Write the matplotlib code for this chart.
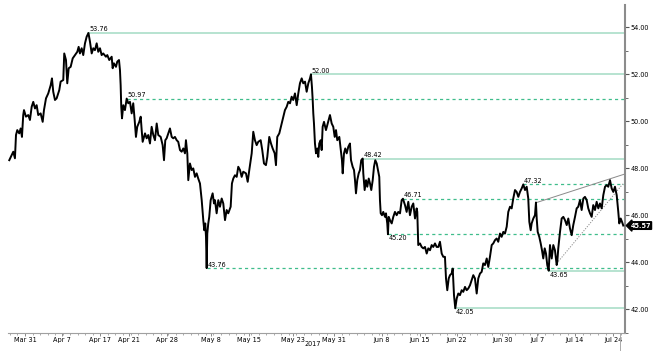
import matplotlib
matplotlib.use("Agg")
import matplotlib.pyplot as plt
from matplotlib.ticker import MultipleLocator, FixedLocator

# price trace, x = trading sessions counted from Mar 31 2017
sessions = [
    -2.08, -1.76, -1.55, -1.33, -1.19, -1.02, -0.76, -0.57, -0.40, -0.23,
    -0.13, 0.13, 0.44, 0.66, 0.89, 1.10, 1.33, 1.55, 1.76, 2.08,
    2.35, 2.52, 2.79, 3.09, 3.41, 3.58, 3.75, 3.98, 4.20, 4.55,
    4.73, 5.08, 5.21, 5.44, 5.61, 5.80, 6.06, 6.33, 6.63, 6.94,
    7.12, 7.29, 7.52, 7.73, 7.96, 8.18, 8.42, 8.62, 8.85, 9.06,
    9.28, 9.51, 9.72, 9.95, 10.17, 10.38, 10.74, 10.92, 11.18, 11.50,
    11.63, 11.80, 12.07, 12.24, 12.47, 12.60, 12.69, 12.77, 12.87, 13.04,
    13.26, 13.49, 13.70, 13.93, 14.15, 14.36, 14.55, 14.72, 14.89, 15.16,
    15.35, 15.48, 15.61, 15.92, 16.14, 16.35, 16.58, 16.80, 17.02, 17.24,
    17.47, 17.68, 18.00, 18.26, 18.44, 18.61, 18.79, 19.01, 19.23, 19.46,
    19.67, 19.89, 20.12, 20.33, 20.56, 20.78, 21.00, 21.22, 21.35, 21.53,
    21.66, 21.88, 22.11, 22.32, 22.55, 22.77, 22.98, 23.21, 23.44, 23.65,
    23.78, 23.91, 24.01, 24.10, 24.18, 24.31, 24.44, 24.63, 24.89, 25.07,
    25.20, 25.42, 25.64, 25.86, 26.09, 26.30, 26.53, 26.75, 26.96, 27.28,
    27.45, 27.63, 27.85, 28.08, 28.29, 28.52, 28.74, 28.95, 29.31, 29.54,
    29.75, 30.07, 30.28, 30.50, 30.73, 30.94, 31.26, 31.47, 31.70, 31.96,
    32.14, 32.40, 32.63, 32.85, 33.12, 33.29, 33.46, 33.73, 34.05, 34.26,
    34.48, 34.71, 34.92, 35.15, 35.37, 35.58, 35.81, 36.04, 36.25, 36.47,
    36.70, 36.91, 37.14, 37.36, 37.58, 37.80, 37.93, 38.06, 38.16, 38.24,
    38.33, 38.46, 38.60, 38.77, 38.90, 39.03, 39.22, 39.35, 39.48, 39.66,
    39.92, 40.09, 40.28, 40.45, 40.68, 40.89, 41.08, 41.25, 41.42, 41.69,
    41.87, 42.04, 42.14, 42.31, 42.48, 42.67, 42.88, 43.10, 43.24, 43.46,
    43.64, 43.77, 43.90, 44.07, 44.26, 44.43, 44.60, 44.79, 44.87, 45.05,
    45.23, 45.40, 45.59, 45.76, 45.93, 46.12, 46.29, 46.46, 46.65, 46.82,
    46.99, 47.08, 47.18, 47.35, 47.52, 47.75, 47.88, 48.05, 48.14, 48.24,
    48.41, 48.64, 48.85, 49.07, 49.30, 49.51, 49.74, 49.96, 50.13, 50.40,
    50.62, 50.84, 51.06, 51.29, 51.50, 51.73, 51.95, 52.03, 52.16, 52.39,
    52.61, 52.83, 53.05, 53.28, 53.49, 53.72, 53.94, 54.15, 54.38, 54.60,
    54.82, 55.04, 55.27, 55.48, 55.70, 55.84, 56.01, 56.20, 56.37, 56.59,
    56.73, 56.81, 56.90, 57.07, 57.26, 57.47, 57.69, 57.92, 58.13, 58.36,
    58.58, 58.79, 59.02, 59.25, 59.46, 59.68, 59.91, 60.12, 60.35, 60.57,
    60.78, 61.01, 61.24, 61.45, 61.67, 61.90, 62.11, 62.34, 62.56, 62.77,
    63.00, 63.22, 63.44, 63.66, 63.89, 64.10, 64.33, 64.55, 64.76, 64.99,
    65.21, 65.43, 65.65, 65.88, 66.09, 66.32, 66.54, 66.75, 66.89, 67.07,
    67.20, 67.42, 67.64, 67.77, 67.87, 68.00, 68.21, 68.40, 68.57, 68.74,
    68.93, 69.10, 69.27, 69.46, 69.63, 69.86, 70.07, 70.29, 70.52, 70.60,
    70.73, 70.96, 71.18, 71.40, 71.62, 71.85, 72.06, 72.28, 72.51, 72.72,
    72.95, 73.17, 73.38, 73.61, 73.83, 74.05, 74.27, 74.50, 74.71, 74.94,
    75.16, 75.37, 75.60, 75.82, 76.04, 76.26, 76.49, 76.70, 76.93, 77.15,
    77.36, 77.59, 77.81, 78.03, 78.25, 78.48, 78.69, 78.82, 79.01, 79.18,
    79.35,
]
price = [
    48.35, 48.57, 48.71, 48.43, 49.42, 49.63, 49.49, 49.70, 49.34, 50.27,
    50.48, 50.20, 50.27, 50.06, 50.62, 50.83, 50.55, 50.69, 50.27, 50.34,
    49.98, 50.48, 50.98, 51.19, 51.54, 51.83, 51.26, 50.91, 50.98, 51.33,
    51.69, 51.76, 52.89, 52.61, 51.62, 52.26, 52.32, 52.68, 52.82, 52.96,
    53.17, 52.89, 53.11, 52.82, 53.32, 53.60, 53.76, 53.39, 52.89, 53.11,
    53.03, 53.32, 52.96, 53.11, 52.82, 52.89, 52.75, 52.82, 52.61, 52.75,
    52.26, 52.47, 52.32, 52.54, 52.61, 52.18, 51.54, 50.62, 50.13, 50.69,
    50.48, 50.97, 50.77, 50.83, 50.34, 50.77, 50.06, 49.34, 49.77, 49.98,
    50.20, 49.63, 49.13, 49.49, 49.28, 49.42, 49.06, 49.77, 49.42, 49.20,
    49.91, 49.42, 49.34, 48.99, 48.35, 49.20, 49.28, 49.49, 49.70, 49.34,
    49.28, 49.34, 49.20, 49.13, 48.78, 48.71, 48.85, 48.64, 49.20, 48.64,
    47.50, 48.21, 47.93, 48.00, 47.64, 47.79, 47.57, 47.36, 46.65, 45.80,
    45.37, 45.66, 45.09, 43.76, 45.23, 45.66, 45.94, 46.65, 46.94, 46.51,
    46.65, 46.09, 46.65, 46.37, 46.72, 46.51, 45.80, 46.23, 46.09, 46.37,
    47.36, 47.57, 47.71, 47.64, 48.07, 47.93, 47.64, 47.86, 47.79, 47.43,
    47.93, 48.64, 49.56, 49.20, 48.99, 49.13, 49.20, 48.78, 48.21, 48.14,
    48.49, 49.34, 49.06, 48.85, 48.64, 48.14, 49.34, 49.49, 49.91, 50.20,
    50.48, 50.62, 50.83, 50.77, 51.05, 50.91, 51.19, 50.69, 51.19, 51.62,
    51.83, 51.62, 51.69, 51.26, 51.62, 51.83, 52.00, 51.47, 50.91, 50.34,
    49.91, 49.06, 48.64, 48.85, 48.49, 49.06, 49.20, 48.78, 49.77, 49.98,
    49.63, 49.84, 50.06, 50.27, 49.91, 49.77, 49.34, 49.63, 49.20, 49.34,
    48.85, 48.35, 47.79, 48.64, 48.85, 48.64, 48.92, 49.06, 48.35, 48.07,
    47.93, 47.50, 46.94, 47.50, 47.79, 47.93, 48.35, 48.42, 47.79, 47.08,
    47.50, 47.22, 47.57, 47.36, 47.08, 47.50, 48.07, 48.35, 48.21, 47.93,
    47.64, 46.65, 46.09, 46.01, 46.15, 45.94, 46.09, 45.66, 45.20, 45.94,
    45.80, 45.66, 45.94, 46.15, 46.01, 46.15, 46.09, 46.65, 46.71, 46.44,
    46.15, 46.58, 46.01, 46.37, 46.51, 45.87, 46.30, 46.15, 44.74, 44.81,
    44.66, 44.60, 44.66, 44.38, 44.60, 44.52, 44.74, 44.66, 44.81, 44.66,
    44.66, 44.88, 44.38, 44.24, 44.24, 43.32, 42.82, 43.32, 43.46, 43.53,
    43.74, 43.17, 42.61, 42.05, 42.47, 42.68, 42.61, 42.82, 42.75, 42.96,
    42.82, 42.89, 43.03, 43.25, 43.46, 43.32, 42.68, 43.32, 43.53, 43.60,
    43.96, 43.89, 44.17, 43.81, 44.24, 44.74, 44.81, 44.95, 45.02, 44.88,
    45.23, 45.09, 45.30, 45.23, 45.52, 46.15, 46.37, 46.30, 46.72, 47.08,
    47.00, 46.79, 47.00, 47.15, 47.32, 47.08, 47.22, 46.72, 45.73, 45.37,
    45.66, 45.87, 46.01, 46.55, 45.87, 45.30, 45.09, 44.81, 44.52, 44.17,
    44.60, 44.38, 43.89, 43.65, 44.74, 44.17, 44.74, 44.52, 43.89, 44.03,
    44.60, 45.30, 45.87, 45.94, 45.80, 45.59, 45.87, 45.45, 45.16, 45.59,
    45.94, 46.30, 46.37, 46.65, 46.23, 46.72, 46.79, 46.65, 46.30, 46.09,
    45.94, 46.44, 46.23, 46.58, 46.30, 46.51, 46.30, 46.86, 47.22, 47.29,
    47.22, 47.50, 47.15, 47.00, 47.22, 46.86, 46.15, 45.66, 45.87, 45.73,
    45.57,
]

tick_pos = [0, 4.9, 9.95, 13.8, 18.8, 24.7, 29.7, 35.5, 41, 47.3, 52.4, 57.3, 63.3, 67.9, 72.9, 78]
tick_lbl = ["Mar 31", "Apr 7", "Apr 17", "Apr 21", "Apr 28", "May 8", "May 15", "May 23",
            "May 31", "Jun 8", "Jun 15", "Jun 22", "Jun 30", "Jul 7", "Jul 14", "Jul 24"]

# support / resistance levels
lvl_val = [53.76, 52.00, 50.97, 48.42, 47.32, 46.71, 45.20, 43.76, 43.65, 42.05]
lvl_start = [8.42, 37.93, 13.49, 44.79, 66.09, 50.13, 48.14, 24.10, 69.46, 57.07]
lvl_dashed = [False, False, True, False, True, True, True, True, False, False]
lvl_below = [False, False, False, False, False, False, True, False, True, True]

# wedge lines
upper_x, upper_y = [67.87, 79.54], [46.55, 47.76]
lower_x, lower_y = [70.52, 79.35], [43.96, 47.36]
last_price = 45.57

XMIN, XMAX = -2.25, 79.54
fs = 4.7
solid_col = "#a3dbc3"
dash_col = "#3fbd8b"

fig = plt.figure(figsize=(6.59, 3.55), dpi=100)
ax = fig.add_axes([8 / 659, 22 / 355, 616.7 / 659, 328 / 355])

for v, s0, dsh, below in zip(lvl_val, lvl_start, lvl_dashed, lvl_below):
    if dsh:
        ax.plot([s0, XMAX], [v, v], color=dash_col, lw=0.9, ls=(0, (2.5, 2.5)), zorder=1)
    else:
        ax.plot([s0, XMAX], [v, v], color=solid_col, lw=1.1, zorder=1)
    ax.annotate(f"{v:.2f}", (s0, v), xytext=(0.5, -0.8 if below else 0.4),
                textcoords="offset points", ha="left",
                va="top" if below else "bottom", fontsize=fs)

ax.plot(upper_x, upper_y, color="#8a8a8a", lw=0.7, zorder=2)
ax.plot(lower_x, lower_y, color="#8a8a8a", lw=0.7, ls=(0, (1.2, 1.5)), zorder=2)

ax.plot(sessions, price, color="black", lw=1.4, zorder=3)

ax.set_xlim(XMIN, XMAX)
ax.set_ylim(41.0, 54.95)

for s in ["left", "top"]:
    ax.spines[s].set_visible(False)
ax.spines["right"].set_color("#8c8c8c")
ax.spines["right"].set_linewidth(1.5)
ax.spines["bottom"].set_color("#a0a0a0")
ax.spines["bottom"].set_linewidth(0.8)

ax.yaxis.tick_right()
ax.yaxis.set_major_locator(MultipleLocator(2))
ax.yaxis.set_minor_locator(MultipleLocator(1))
ax.yaxis.set_major_formatter("{x:.2f}")
ax.tick_params(axis="y", which="major", length=3, width=0.8, color="#555555", labelsize=fs, pad=1)
ax.tick_params(axis="y", which="minor", length=2, width=0.6, color="#555555")

ax.xaxis.set_major_locator(FixedLocator(tick_pos))
ax.set_xticklabels(tick_lbl)
ax.xaxis.set_minor_locator(MultipleLocator(1))
ax.tick_params(axis="x", which="major", length=2, width=0.6, color="#777777", labelsize=fs, pad=1)
ax.tick_params(axis="x", which="minor", length=1.5, width=0.5, color="#888888")

ax.text(38.2, -0.034, "2017", transform=ax.get_xaxis_transform(), ha="center", va="center", fontsize=fs)
ax.plot([78.9, 78.9], [0, -0.052], transform=ax.get_xaxis_transform(), clip_on=False,
        color="#aaaaaa", lw=0.7)

ax.annotate(f"{last_price:.2f}", xy=(1, last_price), xycoords=("axes fraction", "data"),
            xytext=(4, 0), textcoords="offset points", ha="left", va="center",
            color="white", fontsize=fs, fontweight="bold",
            bbox=dict(boxstyle="larrow,pad=0.12", fc="black", ec="black"))

fig.savefig("out.png", dpi=100)
